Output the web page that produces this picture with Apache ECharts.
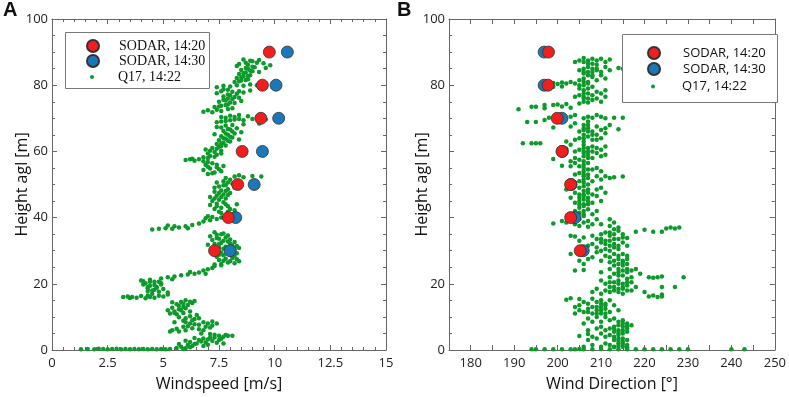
<!DOCTYPE html>
<html>
<head>
<meta charset="utf-8">
<script src="https://cdn.jsdelivr.net/npm/echarts@6/dist/echarts.min.js"></script>
<style>
html, body { margin: 0; padding: 0; background: #fff; }
#chart { width: 789px; height: 397px; }
</style>
</head>
<body>
<div id="chart"></div>
<script>
"use strict"

// SODAR profiles (height agl in m)
const sodarHeights = [30, 40, 50, 60, 70, 80, 90];
const speed1420 = [7.30, 7.92, 8.34, 8.54, 9.38, 9.45, 9.76];
const speed1430 = [8.00, 8.25, 9.08, 9.45, 10.18, 10.06, 10.57];
const dir1420 = [205.2, 203.0, 203.0, 201.0, 199.9, 197.8, 197.9];
const dir1430 = [205.9, 204.0, 203.1, 201.1, 201.0, 196.9, 196.9];

// Q17 samples: [windspeed, height]
const q17Speed = [
    [1.3,0.2],[1.6,0.3],[1.9,0.2],[2.1,0.4],[2.3,0.3],[2.5,0.2],[2.7,0.3],[2.9,0.4],[3.1,0.2],[3.3,0.3],
    [3.5,0.2],[3.7,0.3],[3.9,0.2],[4.1,0.3],[4.3,0.2],[4.5,0.3],[4.7,0.2],[4.9,0.3],[5.1,0.2],[5.3,0.3],
    [5.6,0.6],[5.8,1.0],[6.0,0.5],[6.1,1.5],[5.9,0.3],[6.3,1.2],[6.5,2.0],[6.7,2.6],[6.9,2.3],[6.6,3.0],
    [7.0,3.2],[7.2,2.8],[6.8,3.5],[7.3,3.8],[7.5,4.3],[7.9,4.3],[7.1,4.8],[6.4,1.8],[7.4,2.2],[7.7,2.0],
    [7.6,3.4],[7.8,4.5],[8.1,4.3],[6.2,2.4],[7.0,1.6],[7.3,4.6],[6.7,5.0],
    [5.7,1.8],[6.2,0.8],[6.8,1.2],[7.1,3.8],[7.5,3.0],[6.4,3.6],[6.0,2.8],[7.7,4.0],
    [5.4,6.0],[5.7,5.6],[6.0,6.0],[6.3,6.6],[6.6,6.3],[6.9,7.0],[7.2,7.4],[7.4,8.0],[7.0,8.0],[6.6,7.6],
    [6.2,8.0],[5.9,7.0],[5.5,8.4],[5.9,8.8],[6.3,9.0],[6.6,9.6],[6.2,10.2],[6.5,10.6],[6.0,9.6],[5.7,9.9],
    [6.8,8.4],[7.1,6.8],[5.3,5.6],
    [5.6,6.4],[6.1,7.2],[6.4,7.8],[6.8,6.0],[7.2,8.6],[6.0,8.4],[6.4,9.4],
    [5.3,11.0],[5.5,11.6],[5.7,12.3],[5.4,12.8],[5.9,13.0],[6.1,13.6],[5.6,13.8],[6.3,14.2],[5.8,14.5],[6.0,15.0],
    [5.2,12.0],[5.6,10.8],[6.2,11.6],[5.9,11.2],[5.4,14.4],[6.4,14.8],
    [5.5,11.2],[5.8,12.0],[6.0,12.6],[5.7,13.4],[6.2,14.6],[5.9,14.0],
    [3.2,16.0],[3.4,16.2],[3.6,16.0],[3.8,15.8],[4.0,16.3],[4.2,15.6],[4.4,16.0],[4.6,15.8],[4.8,16.4],[5.0,16.2],
    [5.2,16.8],[3.5,15.7],[4.3,16.5],
    [4.5,17.0],[4.8,17.6],[4.6,18.2],[4.3,18.6],[4.7,19.0],[4.4,19.4],[4.9,19.8],[4.2,20.2],[4.6,20.6],[4.0,21.0],
    [4.4,21.2],[5.0,18.4],[5.2,17.4],[4.1,19.8],[4.8,20.6],[4.3,17.8],
    [4.5,18.0],[4.7,18.8],[4.3,19.0],[4.6,19.6],[4.9,20.2],[4.4,20.6],[4.1,20.8],
    [4.9,21.6],[5.2,22.0],[5.5,22.2],[5.8,22.6],[6.1,22.8],[6.4,23.0],[6.6,23.4],[6.8,24.0],[7.0,24.4],[7.2,24.8],
    [6.2,23.6],[5.4,21.4],[6.9,23.0],[7.3,25.4],
    [7.3,25.8],[7.6,26.0],[7.9,26.4],[8.2,26.2],[8.4,26.8],[7.5,27.2],[7.8,27.6],[8.1,27.8],[7.4,28.2],[7.7,28.6],
    [8.0,28.8],[8.3,29.2],[7.6,29.4],[7.9,29.8],[8.2,30.4],[7.5,31.0],[7.8,31.2],[8.1,31.6],[7.3,32.0],[7.6,32.4],
    [7.9,32.8],[7.2,33.2],[7.5,33.6],[7.8,34.0],[7.1,34.4],[7.4,34.8],[7.7,35.2],[7.3,35.6],[8.4,30.8],[8.0,33.4],
    [7.0,31.8],[8.3,27.4],
    [7.6,25.6],[8.0,26.8],[7.7,27.0],[8.2,28.4],[7.5,28.8],[7.9,29.2],[8.1,30.0],[7.7,30.6],[8.3,31.4],[7.5,32.0],
    [8.0,32.2],[7.7,33.0],[7.4,33.8],[7.9,34.6],[7.6,35.0],[8.2,32.6],
    [4.5,36.4],[4.8,36.6],[5.1,36.8],[5.4,36.6],[5.7,37.0],[6.0,37.4],[6.3,37.8],[6.6,38.2],[5.5,37.4],[6.1,36.8],
    [5.2,37.6],
    [6.8,38.8],[7.1,39.2],[7.4,39.6],[7.2,40.2],[7.6,40.0],[7.9,40.6],[8.1,41.0],[7.0,40.4],[6.9,39.8],
    [7.6,41.4],[7.9,41.8],[8.2,42.2],[7.3,42.6],[7.6,43.0],[7.9,43.4],[7.1,43.8],[7.4,44.2],[7.7,44.6],[7.2,45.0],
    [7.5,45.4],[7.8,45.8],[7.1,46.2],[7.4,46.6],[7.7,47.0],[8.0,47.4],[7.3,47.8],[7.6,48.2],[7.9,48.6],[8.2,49.0],
    [7.5,49.4],[7.8,49.8],[8.1,50.2],[7.4,50.6],[7.7,51.0],[8.0,51.4],[8.3,44.0],
    [7.5,41.8],[8.0,42.6],[7.4,43.4],[7.8,44.0],[7.3,45.8],[7.6,46.2],[7.9,46.8],[7.5,47.4],[7.8,48.0],[7.3,49.0],
    [7.7,49.8],[7.9,50.6],
    [7.8,52.0],[8.2,52.4],[8.6,52.2],[9.0,52.6],[9.4,52.4],[8.4,52.8],
    [7.0,53.2],[7.3,53.6],[7.6,54.0],[6.8,54.4],[7.1,54.8],[7.4,55.2],[7.7,55.6],[6.9,56.0],[7.2,56.4],
    [7.2,53.4],[7.5,54.6],[7.0,55.4],[7.4,56.0],
    [6.0,57.4],[6.2,57.6],[6.4,57.2],[6.6,57.6],[6.8,57.0],[7.0,56.8],[6.3,57.8],
    [6.8,58.2],[7.1,58.6],[7.4,59.0],[7.0,59.4],[7.3,59.8],[7.6,60.2],[6.9,60.6],[7.2,61.0],[7.5,61.4],[7.8,61.8],
    [7.0,58.0],[7.3,58.4],[7.6,59.4],[7.1,60.2],[7.4,60.8],[7.6,61.6],
    [7.4,62.2],[7.7,62.6],[8.0,63.0],[7.5,63.4],[7.8,63.8],[8.1,64.2],[7.6,64.6],[7.9,65.0],[8.2,65.4],[8.5,65.8],
    [7.7,66.2],[8.0,66.6],[8.3,67.0],[7.4,67.4],[7.8,67.8],[8.6,68.2],[9.3,68.4],[7.3,65.2],[8.4,63.6],
    [7.6,62.4],[7.9,63.2],[7.7,64.0],[8.0,64.4],[7.8,65.4],[8.1,66.0],[7.9,66.8],[7.6,67.2],[8.1,68.0],
    [7.4,68.8],[7.8,69.2],[8.2,69.6],[8.6,69.4],[9.0,69.8],[9.4,70.0],[7.6,70.4],[8.0,70.8],[8.4,71.0],[9.6,69.6],
    [8.8,70.6],[7.6,69.0],[8.0,69.4],[8.4,69.8],[7.8,70.2],[8.2,70.4],
    [6.8,72.0],[7.0,72.4],[7.2,71.8],[7.4,72.6],[7.6,72.2],[7.9,72.8],[8.1,73.0],
    [7.3,73.4],[7.6,73.8],[7.9,74.2],[8.2,74.6],[7.5,75.0],[7.8,75.4],[8.1,75.8],[8.4,76.2],[7.7,76.6],[8.0,77.0],
    [8.3,77.4],[8.6,77.8],[7.6,78.2],[7.9,78.6],[8.9,78.4],[7.4,77.6],[8.5,75.2],
    [7.5,73.6],[7.8,74.0],[8.0,74.8],[7.7,75.6],[7.9,76.0],[8.2,76.4],[7.9,77.2],[8.1,78.0],[7.7,78.8],[8.4,78.2],
    [7.4,79.4],[7.7,79.8],[8.0,79.6],[8.3,80.0],[8.6,79.8],[8.9,80.2],[9.2,80.0],
    [8.2,81.0],[8.5,81.4],[8.8,81.8],[8.3,82.2],[8.6,82.6],[8.9,83.0],[8.4,83.4],[8.7,83.8],[9.0,84.2],[8.5,84.6],
    [8.8,85.0],[9.1,85.4],[8.3,85.8],[9.3,84.0],[9.6,85.2],
    [8.4,81.2],[8.7,81.6],[8.5,82.4],[8.8,82.8],[8.6,83.6],[8.9,84.4],[8.7,85.2],[9.0,85.6],
    [8.4,86.4],[8.7,86.8],[9.0,87.2],[9.3,87.6],[8.6,87.8],[9.5,86.6],[9.8,86.0],[8.8,86.2],[9.2,86.8],[8.9,87.4]
];

// Q17 samples: [wind direction, height]
const q17Dir = [
    [194,0.2],[195,0.2],[197,0.2],[199,0.2],[201,0.2],[203,0.2],[204,0.2],[205,0.3],[206,0.2],[208,0.2],
    [210,0.3],[212,0.2],[214,0.2],[216,0.2],[218,0.2],[220,0.2],[222,0.2],[224,0.2],[226,0.2],[228,0.2],
    [230,0.2],[240,0.2],[243,0.2],
    [206,1.0],[208,1.5],[210,1.0],[211,2.0],[212,1.5],[213,1.0],[214,2.0],[215,1.0],[216,1.5],[213,3.0],
    [214,3.5],[215,2.5],[216,3.0],[209,3.5],[207,3.0],[211,4.0],[212,4.5],[205,4.2],[207,4.8],[210,5.0],
    [213,5.5],[214,6.0],[215,5.0],[216,6.5],[213,7.0],[214,7.5],[215,8.0],[216,7.2],[211,6.0],[209,6.5],
    [208,8.5],[206,8.0],[210,8.5],[212,9.0],[207,9.5],[211,10.0],[213,9.5],[209,10.0],[215,9.0],[214,4.5],
    [217,7.5],
    [213,0.8],[214,1.2],[215,1.8],[216,0.8],[214,2.8],[215,3.5],[213,4.0],[214,5.2],[215,6.0],[216,5.5],
    [213,6.5],[214,8.5],[215,7.0],[216,8.0],[212,6.5],[210,7.0],[208,4.0],[207,6.0],
    [204,11.0],[205,12.0],[206,11.5],[207,12.5],[208,11.0],[209,12.0],[210,13.0],[211,12.5],[212,11.5],[213,13.5],
    [205,13.5],[207,14.0],[209,14.5],[210,11.0],[211,14.0],[212,15.0],[208,15.5],[206,14.5],[204,13.0],[210,15.0],
    [202,15.2],[203,15.6],[205,15.4],[214,12.0],
    [209,11.0],[210,12.0],[211,11.0],[210,14.0],[209,13.0],[211,13.5],[208,13.0],[207,11.5],
    [221,16.2],[222,16.5],[223,16.0],[224,16.8],[224,16.2],
    [210,17.0],[211,18.0],[212,17.5],[213,19.0],[214,18.5],[215,17.0],[216,19.5],[217,18.0],[211,20.0],[212,19.0],
    [213,20.5],[214,21.0],[215,20.0],[216,21.5],[209,18.5],[208,17.5],[217,20.5],[210,21.0],[218,19.0],[224,19.0],
    [227,19.0],[220,17.5],
    [214,17.5],[215,18.5],[216,18.0],[215,19.0],[216,20.5],[214,20.0],[213,18.0],[212,20.5],
    [212,22.0],[213,23.0],[214,22.5],[215,24.0],[216,23.5],[217,22.0],[218,24.5],[219,23.0],[221,22.0],[222,21.8],
    [223,22.0],[224,22.2],[229,22.0],[212,24.5],[213,25.5],[214,26.0],[215,25.5],[216,26.0],[217,24.0],[210,23.5],
    [206,26.0],[204,24.0],[206,24.2],
    [214,23.5],[215,22.5],[216,24.5],[214,24.5],[215,27.0],[216,27.5],[213,27.0],[214,28.5],[215,26.5],[212,26.5],
    [205,27.0],[207,27.5],[208,28.0],[210,27.0],[211,28.5],[212,28.0],[213,29.0],[214,27.5],[215,29.0],[216,28.5],
    [206,29.5],[209,29.5],[212,30.0],[214,30.5],[210,30.0],[203,29.0],
    [206,31.0],[207,31.5],[208,32.0],[209,31.0],[210,32.5],[211,33.0],[212,31.5],[213,32.0],[214,33.5],[215,32.5],
    [216,31.5],[205,33.0],[206,34.0],[208,34.5],[209,33.5],[210,35.0],[211,35.5],[212,34.5],[213,35.0],[214,36.0],
    [215,35.0],[203,34.5],[204,34.3],[211,30.5],[216,33.8],
    [211,32.0],[212,33.0],[213,33.5],[214,31.5],[215,34.0],[210,33.5],[213,31.0],[212,35.5],
    [218,35.7],[220,36.3],[222,35.7],[224,35.7],[225,36.7],[226,37.0],[227,36.7],[228,37.0],[213,36.5],[212,37.5],
    [214,37.0],
    [199,38.2],[201,39.0],[202,38.5],[204,38.0],[205,39.5],[206,38.5],[207,39.0],[208,38.0],[209,39.5],[210,38.0],
    [212,39.5],[213,38.5],[205,37.5],[207,37.2],
    [203,41.0],[204,42.0],[205,41.5],[206,40.5],[207,42.5],[208,41.0],[209,42.0],[205,43.0],[206,43.5],[207,44.0],
    [204,44.5],[205,45.0],[206,45.5],[207,46.0],[208,44.5],[209,46.5],[210,45.0],[203,46.0],[204,47.5],[205,47.0],
    [206,48.0],[207,48.5],[208,47.0],[209,48.5],[205,49.0],[206,49.5],[207,50.0],[204,50.5],[210,49.0],[211,47.5],
    [202,48.5],[206,42.0],
    [206,41.0],[206,44.0],[206,46.5],[206,47.0],[207,45.0],[205,44.0],[206,50.5],[207,47.5],[205,46.0],
    [205,51.0],[206,51.5],[207,52.0],[208,51.0],[209,52.5],[210,51.5],[211,52.5],[212,52.0],[213,52.2],[215,52.4],
    [204,53.0],[205,53.5],[206,54.0],[207,53.0],[208,54.5],[209,55.0],[210,54.0],[203,55.5],[201,55.7],[205,55.5],
    [206,56.0],[207,56.5],[204,56.5],
    [206,52.5],[206,53.0],[206,55.0],[207,54.5],[206,57.0],[207,58.0],[206,59.5],[206,60.0],[207,61.0],[206,62.0],
    [208,60.0],
    [199,57.7],[203,57.0],[204,58.0],[205,57.5],[206,58.5],[207,59.0],[208,58.0],[209,59.5],[210,58.5],[211,59.0],
    [204,60.0],[205,60.5],[206,61.0],[207,60.0],[208,61.5],[209,61.0],[210,60.5],[202,60.8],[211,61.5],[203,62.0],
    [192,62.5],[194,62.5],[195,62.5],[196,62.5],
    [202,63.0],[204,63.5],[205,64.0],[206,63.0],[207,64.5],[208,63.5],[209,65.0],[210,64.0],[211,65.5],[205,66.0],
    [206,66.5],[207,67.0],[208,66.0],[209,67.5],[210,66.5],[211,67.0],[212,68.0],[214,66.7],[199,67.2],[203,67.5],
    [204,68.5],[206,68.0],[207,69.0],[193,68.9],[195,68.9],[197,69.5],
    [206,64.0],[206,65.0],[207,66.0],[206,67.0],[207,68.0],[208,65.0],[209,63.5],
    [198,70.2],[203,70.5],[204,71.0],[206,70.0],[207,70.5],[208,70.2],[209,71.0],[210,70.5],[211,70.0],[213,70.2],
    [215,70.2],
    [191,72.7],[194,73.5],[195,73.5],[197,73.0],[197,74.0],[199,74.0],[200,74.2],[201,73.6],[202,74.3],[203,73.2],
    [205,74.5],[206,75.0],[207,74.8],[208,75.5],[209,76.0],[210,75.0],[204,76.5],[205,77.0],[206,76.5],[207,77.5],
    [208,77.0],[209,78.0],[210,77.5],[211,76.5],[206,78.5],[207,79.0],[208,79.5],[205,79.0],[211,78.5],
    [206,76.0],[206,77.5],[207,76.0],
    [199,80.7],[200,80.4],[201,80.8],[202,80.5],[203,81.0],[204,80.5],[199,79.5],[201,79.6],[205,80.0],
    [205,81.5],[206,82.0],[207,81.0],[208,82.5],[209,81.5],[210,83.0],[211,82.0],[206,83.5],[207,84.0],[208,83.0],
    [209,84.5],[210,84.0],[205,84.5],[206,85.0],[207,85.5],[208,85.0],[211,85.5],[214,85.2],[215,85.0],[212,84.5],
    [206,80.0],[207,80.5],[206,81.0],[206,84.0],[207,83.0],[208,84.0],[207,87.5],[208,86.5],[209,85.0],
    [204,87.0],[205,87.5],[206,87.0],[207,86.5],[208,88.0],[209,87.5],[210,88.0],[211,87.0],[212,87.8],[206,88.2],
    [209,86.2]
];

const seriesNames = ["SODAR, 14:20", "SODAR, 14:30", "Q17, 14:22"];
const red = "#f21d1d";
const blue = "#1b78b8";
const green = "#0c9a2a";
const axisColor = "#666";

function pairs(xs) {
    return sodarHeights.map((h, i) => [xs[i], h]);
}

// 坐标轴：刻度朝内，四边都有
function xAxisOf(grid, pos, min, max, interval, minorSplit, fmt, name) {
    return {
        type: "value", gridIndex: grid, position: pos, min: min, max: max, interval: interval,
        name: pos === "bottom" ? name : "", nameLocation: "middle", nameGap: 26, nameMoveOverlap: false,
        nameTextStyle: { fontSize: 16, color: "#111", fontFamily: "Open Sans" },
        axisLine: { onZero: false, lineStyle: { color: axisColor } },
        axisTick: { inside: true, length: 5, lineStyle: { color: axisColor } },
        minorTick: { show: minorSplit > 0, splitNumber: minorSplit || 5, length: 3, lineStyle: { color: axisColor } },
        splitLine: { show: false },
        axisLabel: { show: pos === "bottom", fontSize: 13, color: "#222", fontFamily: "Open Sans", margin: 7, formatter: fmt }
    };
}

function yAxisOf(grid, pos, fmt, gap) {
    return {
        type: "value", gridIndex: grid, position: pos, min: 0, max: 100, interval: 20,
        name: pos === "left" ? "Height agl [m]" : "", nameLocation: "middle", nameGap: gap, nameMoveOverlap: false,
        nameTextStyle: { fontSize: 16, color: "#111", fontFamily: "Open Sans" },
        axisLine: { onZero: false, lineStyle: { color: axisColor } },
        axisTick: { inside: true, length: 5, lineStyle: { color: axisColor } },
        minorTick: { show: true, splitNumber: 4, length: 3, lineStyle: { color: axisColor } },
        splitLine: { show: false },
        axisLabel: { show: pos === "left", fontSize: 13, color: "#222", fontFamily: "Open Sans", margin: 4, formatter: fmt }
    };
}

const speedFmt = v => String(v);
const dirFmt = v => (v % 10 === 0 ? String(v) : "");
const rightHeightFmt = v => (v === 40 || v === 60 ? "" : String(v));

function sodarSeries(name, data, color, xi, yi) {
    return {
        name: name, type: "scatter", xAxisIndex: xi, yAxisIndex: yi, data: data,
        symbolSize: 12, z: 3,
        itemStyle: { color: color, borderColor: "#333", borderWidth: 0.8, opacity: 1 }
    };
}

function q17Series(data, xi, yi) {
    return {
        name: seriesNames[2], type: "scatter", xAxisIndex: xi, yAxisIndex: yi, data: data,
        symbolSize: 4.5, z: 2,
        itemStyle: { color: green, opacity: 1 }
    };
}

// 图例：大圆点两行 + 小圆点一行
function legendPair(x, y, gap, row3, pad, font, size) {
    const big = {
        data: [seriesNames[0], seriesNames[1]], orient: "vertical", left: x, top: y,
        padding: 0, itemWidth: 12, itemHeight: 12, itemGap: gap, selectedMode: false,
        formatter: "{a|{name}}",
        textStyle: { rich: { a: { fontSize: size, fontFamily: font, color: "#111", lineHeight: 12, padding: [0, 0, 0, pad] } } }
    };
    const small = {
        data: [seriesNames[2]], orient: "vertical", left: x + 4, top: row3 - 2,
        padding: 0, itemWidth: 4, itemHeight: 4, selectedMode: false,
        formatter: "{a|{name}}",
        textStyle: { rich: { a: { fontSize: size, fontFamily: font, color: "#111", lineHeight: 4, padding: [0, 0, 0, pad + 4] } } }
    };
    return [big, small];
}

const chart = echarts.init(document.getElementById("chart"), null, { renderer: "canvas" });

const option = {
    animation: false,
    backgroundColor: "#fff",
    title: [
        { text: "A", left: 3, top: 0, padding: 0, textStyle: { fontSize: 20, fontWeight: "bold", color: "#111", fontFamily: "Liberation Sans" } },
        { text: "B", left: 397, top: 0, padding: 0, textStyle: { fontSize: 20, fontWeight: "bold", color: "#111", fontFamily: "Liberation Sans" } }
    ],
    grid: [
        { left: 52, top: 19, width: 334, height: 333 },
        { left: 449, top: 19, width: 334, height: 333 }
    ],
    xAxis: [
        xAxisOf(0, "bottom", 0, 15, 2.5, 5, speedFmt, "Windspeed [m/s]"),
        xAxisOf(0, "top", 0, 15, 2.5, 5, speedFmt, ""),
        xAxisOf(1, "bottom", 175, 250, 5, 0, dirFmt, "Wind Direction [°]"),
        xAxisOf(1, "top", 175, 250, 5, 0, dirFmt, "")
    ],
    yAxis: [
        yAxisOf(0, "left", speedFmt, 22),
        yAxisOf(0, "right", speedFmt, 22),
        yAxisOf(1, "left", rightHeightFmt, 19),
        yAxisOf(1, "right", rightHeightFmt, 19)
    ],
    legend: [
        ...legendPair(86, 39, 1, 72, 15, "Liberation Serif", 14),
        ...legendPair(647, 46, 2, 82, 18, "Open Sans", 13)
    ],
    graphic: [
        { type: "rect", z: 3, shape: { x: 65.5, y: 32.5, width: 144, height: 56 }, style: { fill: "#fff", stroke: "#777", lineWidth: 1 } },
        { type: "rect", z: 3, shape: { x: 622.5, y: 34.5, width: 155, height: 68 }, style: { fill: "#fff", stroke: "#777", lineWidth: 1 } }
    ],
    series: [
        q17Series(q17Speed, 0, 0),
        sodarSeries(seriesNames[1], pairs(speed1430), blue, 0, 0),
        sodarSeries(seriesNames[0], pairs(speed1420), red, 0, 0),
        q17Series(q17Dir, 2, 2),
        sodarSeries(seriesNames[1], pairs(dir1430), blue, 2, 2),
        sodarSeries(seriesNames[0], pairs(dir1420), red, 2, 2)
    ]
};

chart.setOption(option);
</script>
</body>
</html>
